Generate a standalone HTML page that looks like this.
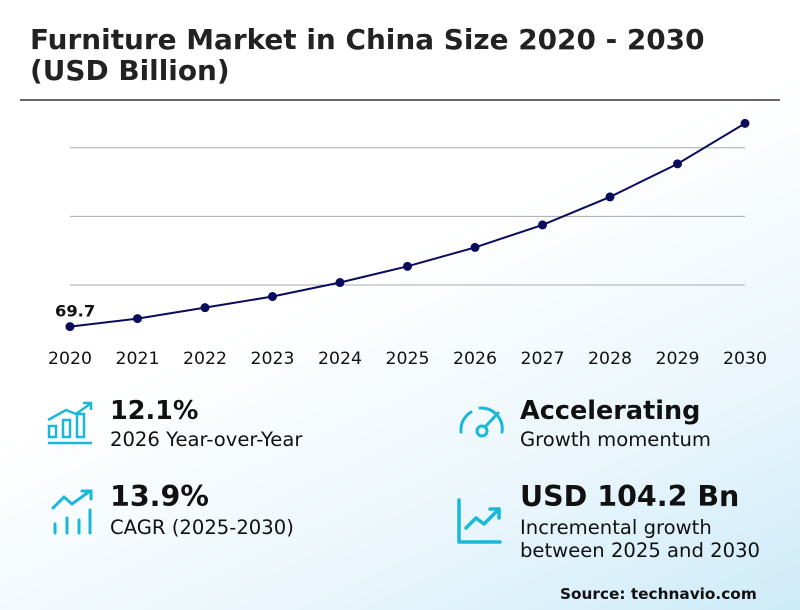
<!DOCTYPE html>
<html><head><meta charset="utf-8"><style>
body{margin:0}
#root{position:relative;width:800px;height:610px;overflow:hidden;font-family:"DejaVu Sans","Liberation Sans",sans-serif;background:linear-gradient(155deg,#ffffff 0%,#ffffff 45%,#eaf6fc 75%,#cdebf8 100%);}
.t{position:absolute;white-space:nowrap;color:#111}
</style></head><body>
<div id="root">
<div class="t" style="left:30px;top:24px;font-size:27.9px;font-weight:bold;line-height:31px;color:#222">Furniture Market in China Size 2020 - 2030<br>(USD Billion)</div>
<div style="position:absolute;left:20px;top:99px;width:760px;height:1.5px;background:#666"></div>
<svg id="chart" width="800" height="380" style="position:absolute;left:0;top:0"></svg>

<svg style="position:absolute;left:46px;top:400px" width="50" height="46" viewBox="0 0 50 46" fill="none" stroke="#1ab8d8" stroke-width="2.5">
<path d="M2 20 L20 10 L30 14 L44 4"/><path d="M37 3 L45 3 L45 10"/>
<rect x="3" y="26" width="7" height="11"/><rect x="17" y="20" width="7" height="17"/><rect x="31" y="14" width="7" height="23"/>
<path d="M2 43 L46 43"/></svg>
<div class="t" style="left:110px;top:396px;font-size:25.5px;font-weight:bold">12.1%</div>
<div class="t" style="left:110px;top:428px;font-size:19.6px">2026 Year-over-Year</div>

<svg style="position:absolute;left:50px;top:488px" width="48" height="48" viewBox="0 0 48 48" fill="none" stroke="#1ab8d8" stroke-width="3" stroke-linecap="round">
<path d="M3 20 L14 9 L22 16 L40 3"/><path d="M32 3 L41 3 L41 11"/>
<path d="M5 36 L5 45"/><path d="M17 30 L17 45"/><path d="M29 32 L29 45"/><path d="M40 22 L40 45"/></svg>
<div class="t" style="left:110px;top:480px;font-size:28.5px;font-weight:bold">13.9%</div>
<div class="t" style="left:110px;top:516px;font-size:19.6px">CAGR (2025-2030)</div>

<svg style="position:absolute;left:456px;top:404px" width="52" height="36" viewBox="0 0 52 36" fill="none" stroke="#1ab8d8" stroke-width="3" stroke-linecap="round">
<path d="M5 28 A21 21 0 0 1 15 8"/><path d="M24 4 A21 21 0 0 1 46 28"/>
<circle cx="26" cy="27" r="5"/><path d="M29 23 L42 9"/></svg>
<div class="t" style="left:520px;top:396px;font-size:25.5px;font-weight:bold">Accelerating</div>
<div class="t" style="left:520px;top:428px;font-size:19.6px">Growth momentum</div>

<svg style="position:absolute;left:456px;top:498px" width="48" height="48" viewBox="0 0 48 48" fill="none" stroke="#1ab8d8" stroke-width="3.5" stroke-linecap="round" stroke-linejoin="round">
<path d="M3 2 L3 44 L44 44"/><path d="M10 30 L20 20 L28 26 L43 11"/><path d="M34 11 L43 11 L43 20"/></svg>
<div class="t" style="left:520px;top:480px;font-size:28.5px;font-weight:bold">USD 104.2 Bn</div>
<div class="t" style="left:520px;top:516px;font-size:19.6px;line-height:23px">Incremental growth<br>between 2025 and 2030</div>

<div class="t" style="left:560px;top:585px;font-size:15.3px;font-weight:bold">Source: technavio.com</div>
</div>
<script>
const years=["2020","2021","2022","2023","2024","2025","2026","2027","2028","2029","2030"];
const values=[69.7,75.5,83.5,91.6,101.8,113.6,127.4,143.8,164.2,188.3,217.8];
const gridValues=[100,150,200];
const firstLabel="69.7";
const NS="http://www.w3.org/2000/svg";
const svg=document.getElementById('chart');
const x=i=>70+i*67.5;
const y=v=>285-(v-100)*1.372;
function mk(t,a){const e=document.createElementNS(NS,t);for(const k in a)e.setAttribute(k,a[k]);svg.appendChild(e);return e;}
gridValues.forEach(g=>{const l=mk('line',{x1:70,x2:745,y1:y(g),y2:y(g),stroke:'#aaa','stroke-width':1});

});
const p=mk('polyline',{points:values.map((v,i)=>x(i)+','+y(v)).join(' '),fill:'none',stroke:'#0b0b5e','stroke-width':2});


values.forEach((v,i)=>{const c=mk('circle',{cx:x(i),cy:y(v),r:4.5,fill:'#0b0b5e'});


const t=mk('text',{x:x(i),y:364,'text-anchor':'middle','font-size':17.3,fill:'#111'});t.textContent=years[i];

});
const lb=mk('text',{x:x(0)-15,y:y(values[0])-10,'font-size':16.3,'font-weight':'bold',fill:'#111'});lb.textContent=firstLabel;


</script>
</body></html>
